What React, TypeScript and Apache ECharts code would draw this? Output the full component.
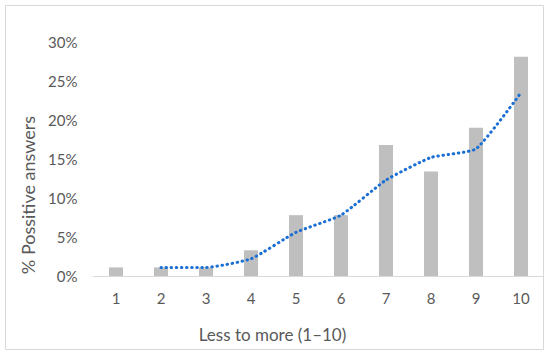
import React, { useEffect, useRef } from "react";
import * as echarts from "echarts";

const categories = ["1", "2", "3", "4", "5", "6", "7", "8", "9", "10"];
const positiveShare = [1.1, 1.1, 1.1, 3.3, 7.8, 7.8, 16.8, 13.4, 19.0, 28.1];
const movingAverage: (number | null)[] = [null, 1.1, 1.1, 2.2, 5.6, 7.8, 12.3, 15.2, 16.3, 23.5];
const yTicks = [0, 5, 10, 15, 20, 25, 30];

const FONT = "Lato";
const TEXT = "#595959";

export default function App() {
  const ref = useRef<HTMLDivElement>(null);
  useEffect(() => {
    if (!ref.current) return;
    const chart = echarts.init(ref.current, undefined, { renderer: "svg" });
    chart.setOption({
      animation: false,
      backgroundColor: "#ffffff",
      graphic: [
        {
          type: "rect",
          shape: { x: 5.5, y: 5.5, width: 538, height: 344 },
          style: { fill: "none", stroke: "#d9d9d9", lineWidth: 1 },
          silent: true,
        },
      ],
      grid: { left: 93.5, right: 6.5, top: 42, bottom: 79 },
      xAxis: {
        type: "category",
        data: categories,
        axisLine: { show: true, lineStyle: { color: "#d9d9d9", width: 1 } },
        axisTick: { show: false },
        axisLabel: { color: TEXT, fontFamily: FONT, fontSize: 15, margin: 14 },
        name: "Less to more (1–10)",
        nameLocation: "middle",
        nameGap: 50,
        nameTextStyle: { color: TEXT, fontFamily: FONT, fontSize: 17, padding: [0, 92, 0, 0] },
      },
      yAxis: {
        type: "value",
        min: yTicks[0],
        max: yTicks[yTicks.length - 1],
        interval: 5,
        axisLine: { show: false },
        axisTick: { show: false },
        splitLine: { show: false },
        axisLabel: {
          color: TEXT,
          fontFamily: FONT,
          fontSize: 15,
          margin: 16,
          formatter: (v: number) => `${v}%`,
        },
        name: "% Possitive answers",
        nameLocation: "middle",
        nameGap: 55,
        nameTextStyle: { color: TEXT, fontFamily: FONT, fontSize: 18, padding: [0, 72, 0, 0] },
      },
      series: [
        {
          type: "bar",
          data: positiveShare,
          barWidth: 14,
          itemStyle: { color: "#bfbfbf" },
        },
        {
          type: "line",
          data: movingAverage,
          smooth: 0.15,
          symbol: "none",
          connectNulls: false,
          lineStyle: { color: "#1a6fd4", width: 3, type: [0.5, 4.6], cap: "round" },
        },
      ],
    });
    return () => chart.dispose();
  }, []);
  return (
    <div
      ref={ref}
      style={{ position: "fixed", left: 0, top: 0, width: 550, height: 355 }}
    />
  );
}
